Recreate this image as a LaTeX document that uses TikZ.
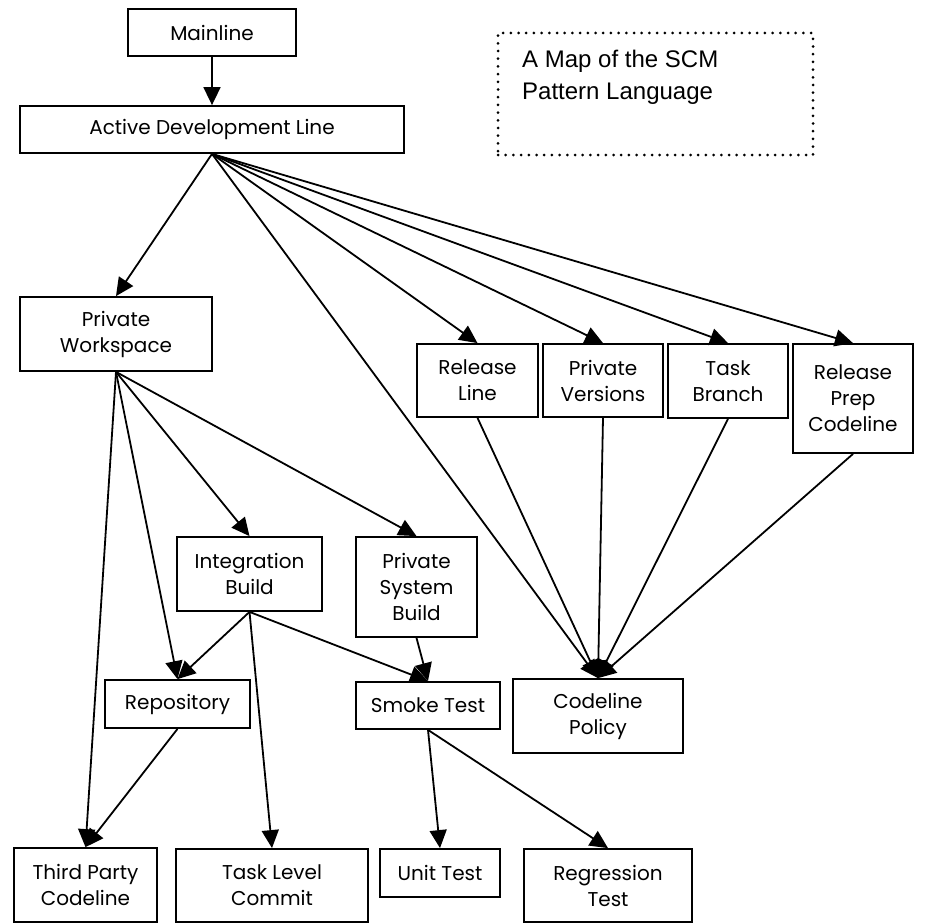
\documentclass[tikz,border=0pt]{standalone}
\usepackage{fontspec}
\setmainfont{Poppins}
\newfontfamily\titlefont{Liberation Sans}
\usetikzlibrary{arrows.meta}
\tikzset{
  box/.style={draw, line width=1.8pt, align=center, inner sep=0pt,
    font=\fontsize{20}{26}\selectfont},
  conn/.style={line width=1.8pt, -{Triangle[length=18pt,width=17pt]}},
}
\begin{document}
\begin{tikzpicture}[x=1pt,y=-1pt]
\useasboundingbox (0,0) rectangle (944,923);
\node[box, minimum width=168, minimum height=47] (ml) at (212,32.5) {Mainline};
\node[box, minimum width=384, minimum height=47] (adl) at (212,129.5) {Active Development Line};
\node[box, minimum width=192, minimum height=74] (pw) at (116,334) {Private\\Workspace};
\node[box, minimum width=121, minimum height=73] (rl) at (477.5,380.5) {Release\\Line};
\node[box, minimum width=120, minimum height=73] (pv) at (603,380.5) {Private\\Versions};
\node[box, minimum width=120, minimum height=74] (tb) at (728,381) {Task\\Branch};
\node[box, minimum width=120, minimum height=109] (rp) at (853,398.5) {Release\\Prep\\Codeline};
\node[box, minimum width=145, minimum height=74] (ib) at (249.5,574) {Integration\\Build};
\node[box, minimum width=121, minimum height=100] (psb) at (416.5,587) {Private\\System\\Build};
\node[box, minimum width=145, minimum height=48] (rep) at (177.5,704) {Repository};
\node[box, minimum width=144, minimum height=47] (st) at (428,705.5) {Smoke Test};
\node[box, minimum width=170, minimum height=74] (cp) at (598,716) {Codeline\\Policy};
\node[box, minimum width=143, minimum height=74] (tpc) at (85.5,885) {Third Party\\Codeline};
\node[box, minimum width=192, minimum height=73] (tlc) at (272,885.5) {Task Level\\Commit};
\node[box, minimum width=120, minimum height=48] (ut) at (440,873) {Unit Test};
\node[box, minimum width=168, minimum height=73] (rt) at (608,885.5) {Regression\\Test};
\node[draw, line width=3pt, line cap=round, dash pattern=on 0pt off 7.7pt,
  minimum width=315, minimum height=122, inner sep=0pt] (map) at (655.5,94) {};
\node[anchor=north west, align=left, inner sep=0pt,
  font=\titlefont\fontsize{24}{32}\selectfont] (maptext) at (522,50) {A Map of the SCM\\Pattern Language};
\draw[conn] (ml.south) -- (adl.north);
\draw[conn] (adl.south) -- (pw.north);
\draw[conn] (adl.south) -- (rl.north);
\draw[conn] (adl.south) -- (pv.north);
\draw[conn] (adl.south) -- (tb.north);
\draw[conn] (adl.south) -- (rp.north);
\draw[conn] (adl.south) -- (cp.north);
\draw[conn] (rl.south) -- (cp.north);
\draw[conn] (pv.south) -- (cp.north);
\draw[conn] (tb.south) -- (cp.north);
\draw[conn] (rp.south) -- (cp.north);
\draw[conn] (pw.south) -- (ib.north);
\draw[conn] (pw.south) -- (psb.north);
\draw[conn] (pw.south) -- (rep.north);
\draw[conn] (pw.south) -- (tpc.north);
\draw[conn] (ib.south) -- (rep.north);
\draw[conn] (ib.south) -- (st.north);
\draw[conn] (ib.south) -- (tlc.north);
\draw[conn] (psb.south) -- (st.north);
\draw[conn] (rep.south) -- (tpc.north);
\draw[conn] (st.south) -- (ut.north);
\draw[conn] (st.south) -- (rt.north);
\end{tikzpicture}
\end{document}
